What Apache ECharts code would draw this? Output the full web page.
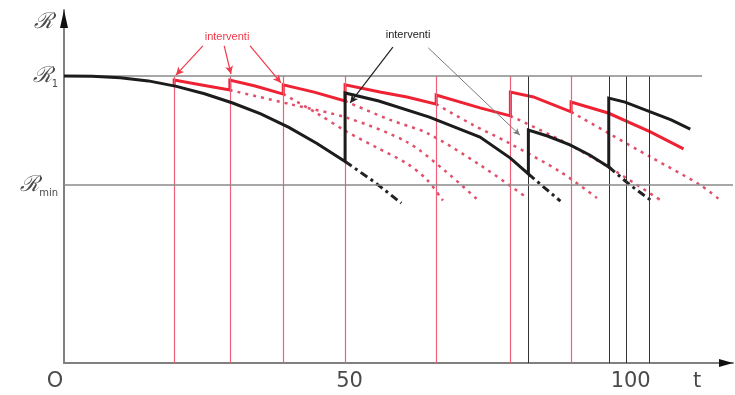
<!DOCTYPE html>
<html><head><meta charset="utf-8">
<script src="https://cdn.jsdelivr.net/npm/echarts@6/dist/echarts.min.js"></script>
<style>html,body{margin:0;padding:0;background:#fff}#c{width:735px;height:395px}</style>
</head><body><div id="c"></div>
<script>
// ---- data ----
const R1 = 1.0, RMIN = 0.62;
const T_MAX = 119, R_MAX = 1.23;
const xTickValues = [0, 50, 100];
const xTickText = ['O', '50', '100'];
const redInterventions = [19.6, 29.5, 39, 50, 66.2, 79.4, 90.2];
const blackInterventions = [82.6, 96.9, 100, 104.1];
const r1LineEnd = 113.5;
const rminLineEnd = 119;

const blackSolid = [[0,1.0],[5,0.999],[10,0.994],[15,0.983],[20,0.964],[25,0.938],[30,0.906],[35,0.868],[40,0.821],[45,0.765],[50,0.702],
  [50,0.941],[56,0.913],[65,0.857],[74,0.787],[79.4,0.714],[82.6,0.659],
  [82.6,0.812],[86,0.791],[90,0.760],[93.5,0.725],[96.9,0.683],
  [96.9,0.923],[99.8,0.909],[104.3,0.875],[108,0.847],[111.4,0.815]];
const redSolid = [[19.6,0.962],[19.6,0.986],[24.5,0.969],[29.5,0.951],
  [29.5,0.986],[34,0.965],[39,0.937],
  [39,0.969],[44.5,0.944],[50,0.913],
  [50,0.969],[56.2,0.944],[61,0.927],[66.2,0.902],
  [66.2,0.934],[74,0.889],[79.4,0.861],
  [79.4,0.944],[83.5,0.927],[90.2,0.875],
  [90.2,0.909],[96.8,0.871],[104.3,0.805],[110.2,0.746]];
const redDot1 = [[29.5,0.951],[40.2,0.902],[50.4,0.854],[61,0.770],[68,0.666],[74,0.561]];
const redDot2 = [[39,0.937],[45,0.87],[50.4,0.805],[55.7,0.75],[61,0.695],[64.5,0.64],[67.4,0.566]];
const redDot3 = [[50,0.913],[58,0.847],[64.6,0.801],[74,0.69],[82.4,0.575]];
const redDot4 = [[66.2,0.902],[72.8,0.829],[78.8,0.770],[88.3,0.666],[94.8,0.575]];
const redDot5 = [[79.4,0.861],[88.3,0.777],[97.2,0.679],[106.6,0.561]];
const redDot6 = [[90.2,0.875],[104.3,0.718],[113.2,0.620],[116.7,0.568]];
const blackDash1 = [[50,0.702],[55,0.634],[60,0.557]];
const blackDash2 = [[82.6,0.659],[85.5,0.610],[88.3,0.564]];
const blackDash3 = [[96.9,0.683],[100.7,0.620],[104.8,0.561]];

const redNote = { text: 'interventi', at: [29, 1.136] };
const blackNote = { text: 'interventi', at: [61.2, 1.143] };
const redArrows = [[[24.7,1.105],[19.9,1.003]], [[28.5,1.105],[29.7,1.007]], [[33.1,1.105],[38.6,0.976]]];
const blackArrows = [[[58.5,1.101],[50.9,0.906]]];
const greyArrows = [[[64.8,1.098],[81.1,0.794]]];

// ---- chart ----
const chart = echarts.init(document.getElementById('c'), null, {renderer: 'canvas'});
const RED = '#ee2233', PINK = '#ef5f7a', DOT = '#e0506a', BLK = '#1c1c1c';

function lineSeries(data, color, width, type, z, smooth) {
  return { type: 'line', data: data, showSymbol: false, symbol: 'none', smooth: smooth || false,
    lineStyle: { color: color, width: width, type: type, cap: 'butt', join: 'miter' }, z: z, silent: true };
}
function vlines(ts) {
  return ts.map(t => [{ coord: [t, 0] }, { coord: [t, R1] }]);
}
function arrowData(list) {
  return list.map(a => [{ coord: a[0] }, { coord: a[1] }]);
}

const series = [
  { type: 'line', data: [], z: 1, silent: true,
    markLine: { silent: true, symbol: 'none', animation: false, label: { show: false },
      lineStyle: { color: PINK, width: 1.2, type: 'solid' }, data: vlines(redInterventions) } },
  { type: 'line', data: [], z: 1, silent: true,
    markLine: { silent: true, symbol: 'none', animation: false, label: { show: false },
      lineStyle: { color: '#333', width: 1, type: 'solid' }, data: vlines(blackInterventions) } },
  { type: 'line', data: [], z: 1, silent: true,
    markLine: { silent: true, symbol: 'none', animation: false, label: { show: false },
      lineStyle: { color: '#8a8a8a', width: 1.5, type: 'solid' },
      data: [[{ coord: [0, R1] }, { coord: [r1LineEnd, R1] }], [{ coord: [0, RMIN] }, { coord: [rminLineEnd, RMIN] }]] } },
  lineSeries(redDot1, DOT, 2.5, [3, 5], 2, 0.3),
  lineSeries(redDot2, DOT, 2.5, [3, 5], 2, 0.3),
  lineSeries(redDot3, DOT, 2.5, [3, 5], 2, 0.3),
  lineSeries(redDot4, DOT, 2.5, [3, 5], 2, 0.3),
  lineSeries(redDot5, DOT, 2.5, [3, 5], 2, 0.3),
  lineSeries(redDot6, DOT, 2.5, [3, 5], 2, 0.3),
  lineSeries(blackDash1, '#222', 3, [8, 4, 3, 4], 3),
  lineSeries(blackDash2, '#222', 3, [8, 4, 3, 4], 3),
  lineSeries(blackDash3, '#222', 3, [8, 4, 3, 4], 3),
  lineSeries(redSolid, RED, 3, 'solid', 4),
  lineSeries(blackSolid, BLK, 3, 'solid', 5),
  { type: 'line', data: [], z: 6, silent: true,
    markLine: { silent: true, symbol: ['none', 'arrow'], symbolSize: [6, 8], animation: false, label: { show: false },
      lineStyle: { color: '#f03a4a', width: 1.2, type: 'solid' }, data: arrowData(redArrows) },
    markPoint: { silent: true, symbol: 'circle', symbolSize: 0, animation: false,
      label: { show: true, position: 'inside', color: '#f03a4a', fontSize: 11, fontFamily: 'Liberation Sans' },
      data: [{ coord: redNote.at, value: redNote.text }] } },
  { type: 'line', data: [], z: 6, silent: true,
    markLine: { silent: true, symbol: ['none', 'arrow'], symbolSize: [6, 8], animation: false, label: { show: false },
      lineStyle: { color: '#222', width: 1.2, type: 'solid' }, data: arrowData(blackArrows) },
    markPoint: { silent: true, symbol: 'circle', symbolSize: 0, animation: false,
      label: { show: true, position: 'inside', color: '#222', fontSize: 11, fontFamily: 'Liberation Sans' },
      data: [{ coord: blackNote.at, value: blackNote.text }] } },
  { type: 'line', data: [], z: 6, silent: true,
    markLine: { silent: true, symbol: ['none', 'arrow'], symbolSize: [5, 7], animation: false, label: { show: false },
      lineStyle: { color: '#7a7a7a', width: 1, type: 'solid' }, data: arrowData(greyArrows) } },
  // axis arrow heads
  { type: 'line', data: [], z: 7, silent: true,
    markPoint: { silent: true, animation: false, label: { show: false },
      itemStyle: { color: '#111' },
      data: [
        { coord: [T_MAX, 0], symbol: 'path://M0,0 L10,5 L0,10 Z', symbolSize: [14, 8], symbolOffset: [-7, 0], symbolKeepAspect: false },
        { coord: [0, R_MAX], symbol: 'path://M5,0 L10,10 L0,10 Z', symbolSize: [8, 18], symbolOffset: [0, 9], symbolKeepAspect: false }
      ] } }
];

const labelColor = '#4a4a4a';
chart.setOption({
  animation: false,
  backgroundColor: '#fff',
  grid: { left: 64, right: 2, top: 10, bottom: 32, containLabel: false, outerBoundsMode: 'none' },
  xAxis: {
    type: 'value', min: 0, max: T_MAX,
    splitLine: { show: false }, axisTick: { show: false },
    axisLine: { show: true, onZero: false, lineStyle: { color: '#808080', width: 2 } },
    name: 't', nameLocation: 'end', nameGap: -40,
    nameTextStyle: { color: labelColor, fontSize: 21, fontFamily: 'DejaVu Sans', verticalAlign: 'top', padding: [8, 0, 0, 0] },
    axisLabel: {
      show: true, customValues: xTickValues, margin: 8, color: labelColor,
      fontSize: 21, fontFamily: 'DejaVu Sans',
      formatter: function (v) {
        const i = xTickValues.indexOf(v);
        const s = i >= 0 ? xTickText[i] : '';
        return i === 0 ? '{a|' + s + '}' : '{b|' + s + '}';
      },
      rich: {
        a: { fontSize: 21, fontFamily: 'DejaVu Sans', color: labelColor, padding: [0, 18, 0, 0] },
        b: { fontSize: 21, fontFamily: 'DejaVu Sans', color: labelColor, padding: [0, 0, 0, 9] }
      }
    }
  },
  yAxis: {
    type: 'value', min: 0, max: R_MAX,
    splitLine: { show: false }, axisTick: { show: false },
    axisLine: { show: true, onZero: false, lineStyle: { color: '#808080', width: 2 } },
    name: 'ℛ', nameLocation: 'end', nameGap: -23,
    nameTextStyle: { color: labelColor, fontSize: 22, fontStyle: 'italic', fontFamily: 'DejaVu Serif', align: 'right', verticalAlign: 'bottom', padding: [0, 11, 0, 0] },
    axisLabel: {
      show: true, customValues: [RMIN, R1], margin: 6, color: labelColor,
      formatter: function (v) {
        return v === R1 ? '{r|ℛ}{s|1}' : '{r|ℛ}{s|min}';
      },
      rich: {
        r: { fontSize: 22, fontStyle: 'italic', fontFamily: 'DejaVu Serif', color: labelColor, lineHeight: 26 },
        s: { fontSize: 10, fontFamily: 'DejaVu Sans', color: labelColor, verticalAlign: 'bottom', lineHeight: 26 }
      }
    }
  },
  series: series
});
</script>
</body></html>
